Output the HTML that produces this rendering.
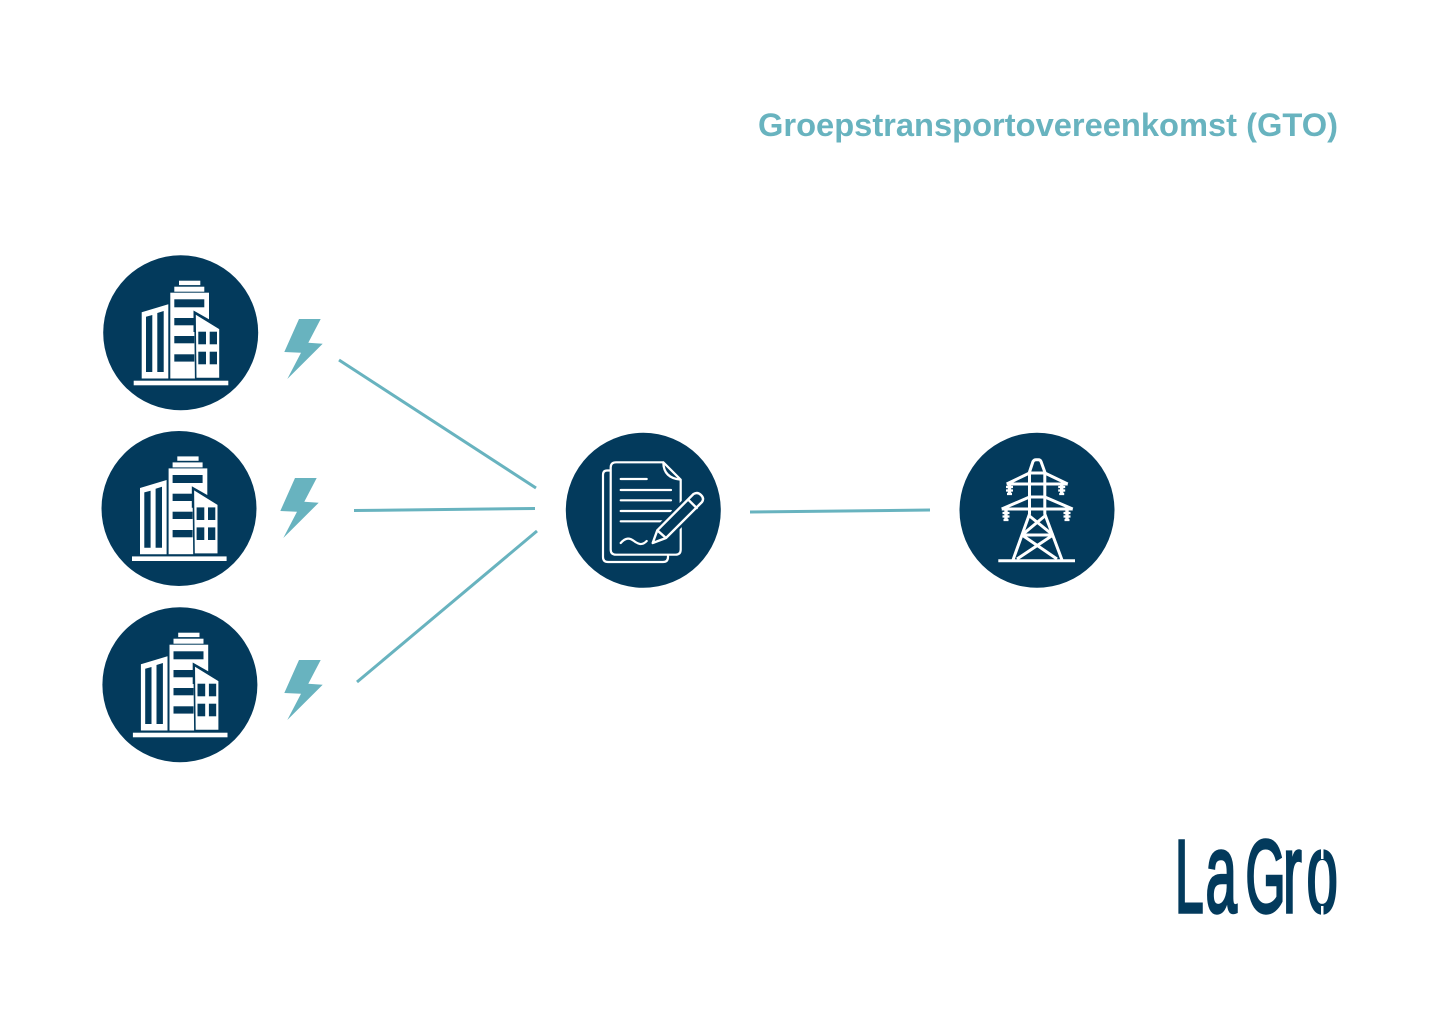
<!DOCTYPE html>
<html lang="nl">
<head>
<meta charset="utf-8">
<title>Groepstransportovereenkomst (GTO)</title>
<style>
html,body{margin:0;padding:0;background:#fff;width:1440px;height:1018px;overflow:hidden}
svg{display:block}
</style>
</head>
<body>
<svg xmlns="http://www.w3.org/2000/svg" width="1440" height="1018" viewBox="0 0 1440 1018">
<defs>
<g id="b">
<circle cx="180.7" cy="332.8" r="77.5" fill="#033a5c"/>
<g fill="#fff">
<rect x="133.7" y="380.7" width="94.6" height="4.6"/>
<polygon points="141.7,312.3 168.3,304.3 168.3,378.5 141.7,378.5"/>
<rect x="170.3" y="292.7" width="38.7" height="85.8"/>
<rect x="174.3" y="286.7" width="30" height="5"/>
<rect x="179" y="280.7" width="21.3" height="4.4"/>
</g>
<g fill="#033a5c">
<polygon points="146,316.7 152.3,315 152.3,372 146,372"/>
<polygon points="157.3,313 163.7,311 163.7,372 157.3,372"/>
<rect x="174.3" y="299.3" width="30" height="8"/>
<rect x="174.3" y="318" width="20" height="7.3"/>
<rect x="174.3" y="336" width="20" height="7.3"/>
<rect x="174.3" y="354.3" width="20" height="7.3"/>
<polygon points="193.5,310.5 212,321 212,332 193.5,332"/>
</g>
<polygon points="195,313.3 220,328.7 220,378.5 195.7,378.5" fill="#fff" stroke="#033a5c" stroke-width="1.6"/>
<g fill="#033a5c">
<rect x="198.3" y="331.7" width="7.7" height="12.6"/>
<rect x="209.7" y="331.7" width="7.3" height="12.6"/>
<rect x="198.3" y="351.7" width="7.7" height="12.6"/>
<rect x="209.7" y="351.7" width="7.3" height="12.6"/>
</g>
</g>
<polygon id="z" points="299,319 320.7,319 308.3,342.7 322.7,343.7 287.3,379 301,352.7 284.3,352" fill="#68b3bf"/>
</defs>

<text x="758" y="136" font-family="'Liberation Sans',sans-serif" font-weight="700" font-size="32" fill="#68b3bf" textLength="580" lengthAdjust="spacingAndGlyphs">Groepstransportovereenkomst (GTO)</text>

<use href="#b"/>
<use href="#b" x="-1.7" y="175.7"/>
<use href="#b" x="-0.8" y="352"/>
<use href="#z"/>
<use href="#z" x="-4" y="159"/>
<use href="#z" x="0" y="341"/>

<g stroke="#68b3bf" stroke-width="3" fill="none">
<line x1="339" y1="360" x2="536" y2="488"/>
<line x1="354" y1="510.5" x2="535" y2="508.5"/>
<line x1="357" y1="682" x2="537" y2="531"/>
<line x1="750" y1="512" x2="930" y2="510"/>
</g>

<!-- Document -->
<circle cx="643.3" cy="510.3" r="77.5" fill="#033a5c"/>
<g fill="none" stroke="#fff" stroke-width="2.2" stroke-linejoin="round" stroke-linecap="round">
<path d="M610.5 470.5H607Q603 470.5 603 475V557Q603 562 608 562H663Q668 562 668 557V555"/>
<path d="M663.3 462.3H616Q610.7 462.3 610.7 467.5V549.5Q610.7 554.7 616 554.7H675.5Q680.7 554.7 680.7 549.5V479.7L663.3 462.3Q663.5 478 680.7 479.7"/>
<path d="M620.7 479H646.7M620.7 490H671M620.7 500.3H671M620.7 511H671M620.7 521.3H671"/>
<path d="M620.7 543C626 537 630 538 634 541S642 546 646.7 541"/>
<path d="M652.7 543L657.3 530.3L693.5 494Q697.5 491.5 701 495T702 502L666 538Z" fill="#033a5c" stroke="#033a5c" stroke-width="7"/>
<path d="M652.7 543L657.3 530.3L693.5 494Q697.5 491.5 701 495T702 502L666 538ZM657.3 530.3L666 538M688.3 499.7L696.7 508" stroke-width="2.4"/>
</g>

<!-- Tower -->
<circle cx="1037" cy="510.3" r="77.5" fill="#033a5c"/>
<g fill="none" stroke="#fff" stroke-width="3" stroke-linejoin="round">
<path d="M998.3 560.7H1075"/>
<path d="M1013 560L1029.5 514V472L1033 461.5Q1034 459.7 1036 459.7H1038.5Q1040.3 459.7 1041 461.5L1044.8 472V514L1062 560"/>
<path d="M1029.5 473H1044.8M1006.7 484L1029.5 473M1044.8 473L1067.7 484M1006.7 484H1067.7"/>
<path d="M1029.5 497H1044.8M1001.7 509L1029.5 497M1044.8 497L1072.7 509M1001.7 509H1072.7"/>
<path d="M1029.5 516L1053 535M1044.8 516L1022 535M1022 535H1053M1022 535L1057 559M1053 535L1017 559"/>
<path d="M1009.5 484V493M1061.7 484V493M1006 510V520M1067 510V520" stroke-width="3.4"/>
<path d="M1006 487H1013M1006 490.5H1013M1007 494H1012M1058.2 487H1065.2M1058.2 490.5H1065.2M1059.2 494H1064.2M1002.5 513H1009.5M1002.5 516.5H1009.5M1003.5 520H1008.5M1063.5 513H1070.5M1063.5 516.5H1070.5M1064.5 520H1069.5" stroke-width="2.2"/>
</g>

<!-- Logo -->
<text transform="scale(.5,1)" y="912" font-family="'Liberation Sans',sans-serif" font-weight="400" font-size="103" fill="#033a5c" stroke="#033a5c" stroke-width="3.4"><tspan x="2350">L</tspan><tspan x="2411" font-size="113">a</tspan><tspan x="2491">G</tspan><tspan x="2566" font-size="113">r</tspan><tspan x="2613" font-size="113">o</tspan></text>
<rect x="1321" y="848" width="2.5" height="11" fill="#fff"/>
<rect x="1321" y="906" width="2.5" height="11" fill="#fff"/>
</svg>
</body>
</html>
